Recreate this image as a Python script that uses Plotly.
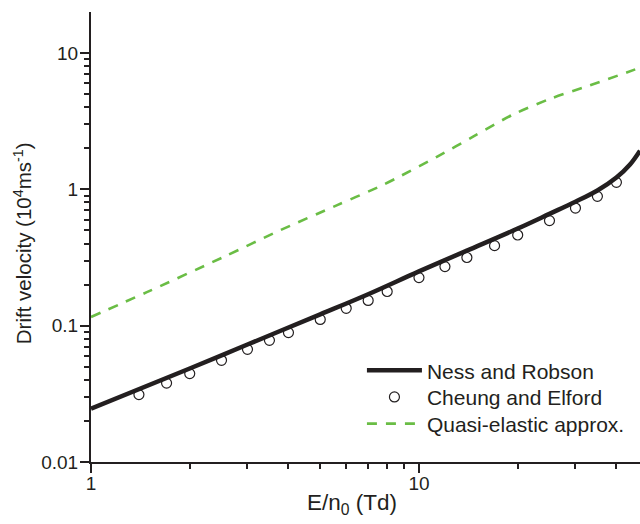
import numpy as np
import plotly.graph_objects as go

# Reduced field E/n0 (Td) and drift velocity (10^4 m/s)
ness_E = [1, 2, 3, 5, 7, 10, 14, 20, 25, 30, 35, 40, 44, 47.2]
ness_v = [0.0246, 0.0485, 0.0727, 0.121, 0.170, 0.250, 0.355, 0.515, 0.66,
          0.81, 0.98, 1.22, 1.52, 1.92]

cheung_E = [1.4, 1.7, 2, 2.5, 3, 3.5, 4, 5, 6, 7, 8, 10, 12, 14, 17, 20, 25,
            30, 35, 40]
cheung_v = [0.0312, 0.0379, 0.0445, 0.0557, 0.067, 0.078, 0.0889, 0.111,
            0.134, 0.153, 0.178, 0.225, 0.271, 0.316, 0.386, 0.462, 0.589,
            0.728, 0.887, 1.124]

quasi_E = [1, 1.48, 2.53, 3.77, 5.61, 7.6, 8.75, 11.3, 14.8, 19.3, 25.2, 33,
           43, 47.2]
quasi_v = [0.1157, 0.176, 0.318, 0.50, 0.762, 1.05, 1.244, 1.72, 2.47, 3.52,
           4.62, 5.75, 7.19, 7.8]

y_major = [0.01, 0.1, 1, 10]
y_major_text = ["0.01", "0.1", "1", "10"]
x_major = [1, 10]
x_major_text = ["1", "10"]

INK = "#231f20"
GREEN = "#6abd45"
FONT = "Arial, Liberation Sans, sans-serif"

y_minor = [m * d for d in (0.01, 0.1, 1, 10) for m in range(2, 10) if m * d <= 20]
x_minor = [m * d for d in (1, 10) for m in range(2, 10) if m * d <= 48]

fig = go.Figure()

fig.add_trace(go.Scatter(
    x=ness_E, y=ness_v, mode="lines", name="Ness and Robson",
    line=dict(color=INK, width=4.5, shape="spline", smoothing=1),
    legend="legend",
))
fig.add_trace(go.Scatter(
    x=cheung_E, y=cheung_v, mode="markers", name="Cheung and Elford",
    marker=dict(symbol="circle-open", size=10, color=INK, line=dict(width=1.2)),
    legend="legend2",
))
fig.add_trace(go.Scatter(
    x=quasi_E, y=quasi_v, mode="lines", name="Quasi-elastic approx.",
    line=dict(color=GREEN, width=2.6, dash="10px,9px", shape="spline",
              smoothing=0.8),
    legend="legend3",
))

fig.update_xaxes(
    type="log", range=[0, np.log10(47.2)],
    showline=True, linecolor=INK, linewidth=2, mirror=False,
    showgrid=False, zeroline=False,
    tickmode="array", tickvals=x_major, ticktext=x_major_text,
    ticks="outside", ticklen=9, tickwidth=1.6, tickcolor=INK,
    ticklabelstandoff=-6,
    tickfont=dict(family=FONT, size=19, color=INK),
    minor=dict(tickmode="array", tickvals=x_minor, ticks="outside",
               ticklen=5, tickwidth=1.6, tickcolor=INK, showgrid=False),
)
fig.update_yaxes(
    type="log", range=[-2, 1.30],
    showline=True, linecolor=INK, linewidth=2, mirror=False,
    showgrid=False, zeroline=False,
    tickmode="array", tickvals=y_major, ticktext=y_major_text,
    ticks="outside", ticklen=9, tickwidth=1.6, tickcolor=INK,
    ticklabelstandoff=-2,
    tickfont=dict(family=FONT, size=19, color=INK),
    minor=dict(tickmode="array", tickvals=y_minor, ticks="outside",
               ticklen=5, tickwidth=1.6, tickcolor=INK, showgrid=False),
)

# Axis titles placed as annotations
fig.add_annotation(
    text="E/n<sub>0</sub> (Td)", xref="paper", yref="paper",
    x=0.475, y=-0.094, xanchor="center", yanchor="middle", showarrow=False,
    font=dict(family=FONT, size=22.5, color=INK),
)
fig.add_annotation(
    text="Drift velocity (10<sup>4</sup>ms<sup>-1</sup>)",
    xref="paper", yref="paper", x=-0.124, y=0.486,
    xanchor="center", yanchor="middle", textangle=-90, showarrow=False,
    font=dict(family=FONT, size=20.5, color=INK),
)

legend_style = dict(
    xanchor="left", yanchor="middle", x=0.4935,
    bgcolor="rgba(0,0,0,0)", borderwidth=0,
    font=dict(family=FONT, size=21, color=INK),
    itemwidth=55,
)

fig.update_layout(
    width=640, height=524,
    margin=dict(l=91, r=0, t=12, b=62),
    paper_bgcolor="white", plot_bgcolor="white",
    showlegend=True,
    legend=dict(y=0.2029, **legend_style),
    legend2=dict(y=0.1438, **legend_style),
    legend3=dict(y=0.0844, **legend_style),
)

fig.write_html("out.html")
